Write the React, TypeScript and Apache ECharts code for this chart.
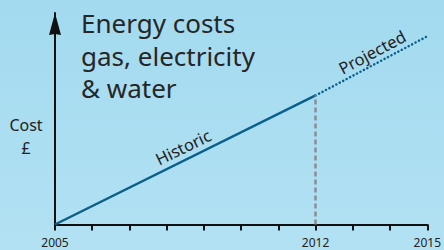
import React, { useEffect, useRef } from "react";
import * as echarts from "echarts";

const historicYears = [2005, 2012];
const historicCost = [0, 61];
const projectedYears = [2012, 2015];
const projectedCost = [61, 89];
const labelledYears = [2005, 2012, 2015];
const titleLines = ["Energy costs", "gas, electricity", "& water"];

export default function App() {
  const ref = useRef<HTMLDivElement>(null);
  useEffect(() => {
    const chart = echarts.init(ref.current!, null, { renderer: "svg" });
    const font = "'Noto Sans', 'Open Sans', sans-serif";
    chart.setOption({
      animation: false,
      backgroundColor: {
        type: "linear", x: 0, y: 0, x2: 0, y2: 1,
        colorStops: [
          { offset: 0, color: "#a3daef" },
          { offset: 1, color: "#b2e1f3" },
        ],
      },
      title: {
        text: titleLines.join("\n"),
        left: 76,
        top: 2,
        textStyle: { fontFamily: font, fontSize: 26, lineHeight: 32.5, fontWeight: "normal", color: "#262626" },
      },
      grid: { left: 55, right: 11, top: 13, bottom: 25.5 },
      xAxis: {
        type: "value",
        min: 2005,
        max: 2015,
        interval: 1,
        splitLine: { show: false },
        axisLine: { lineStyle: { color: "#111", width: 2 } },
        axisTick: { show: true, length: 6, lineStyle: { color: "#111", width: 2 } },
        axisLabel: {
          margin: 12,
          fontFamily: font,
          fontSize: 12,
          color: "#222",
          showMinLabel: true,
          showMaxLabel: true,
          formatter: (v: number) => (labelledYears.includes(Math.round(v)) ? String(Math.round(v)) : ""),
        },
      },
      yAxis: {
        type: "value",
        min: 0,
        max: 100,
        splitLine: { show: false },
        axisLabel: { show: false },
        axisTick: { show: false },
        axisLine: {
          show: true,
          symbol: ["none", "path://M6,0 L12,22 L6,21 L0,22 Z"],
          symbolSize: [12, 22],
          symbolOffset: [0, -11],
          lineStyle: { color: "#111", width: 2 },
        },
      },
      series: [
        {
          type: "line",
          data: historicYears.map((y, i) => [y, historicCost[i]]),
          symbol: "none",
          lineStyle: { color: "#0b5f8c", width: 2.5 },
          markLine: {
            silent: true,
            symbol: "none",
            label: { show: false },
            lineStyle: { color: "#8a8e93", type: [5, 3], width: 2.5 },
            data: [[{ coord: [2012, 0] }, { coord: [2012, historicCost[1]] }]],
          },
        },
        {
          type: "line",
          data: projectedYears.map((y, i) => [y, projectedCost[i]]),
          symbol: "none",
          lineStyle: { color: "#0b5f8c", width: 2.5, type: [0.1, 3.8], cap: "round" },
        },
      ],
      graphic: [
        {
          type: "text",
          x: 26,
          y: 114,
          style: { text: "Cost\n£", fontFamily: font, fontSize: 16, lineHeight: 22.5, fill: "#222", textAlign: "center", textVerticalAlign: "top" },
        },
        {
          type: "text",
          x: 183,
          y: 147,
          rotation: (26 * Math.PI) / 180,
          style: { text: "Historic", fontFamily: font, fontSize: 16.5, fill: "#222", textAlign: "center", textVerticalAlign: "middle" },
        },
        {
          type: "text",
          x: 372,
          y: 52,
          rotation: (28 * Math.PI) / 180,
          style: { text: "Projected", fontFamily: font, fontSize: 16.5, fill: "#222", textAlign: "center", textVerticalAlign: "middle" },
        },
      ],
    });
    return () => chart.dispose();
  }, []);
  return <div ref={ref} style={{ width: 444, height: 250, position: "absolute", left: 0, top: 0 }} />;
}
